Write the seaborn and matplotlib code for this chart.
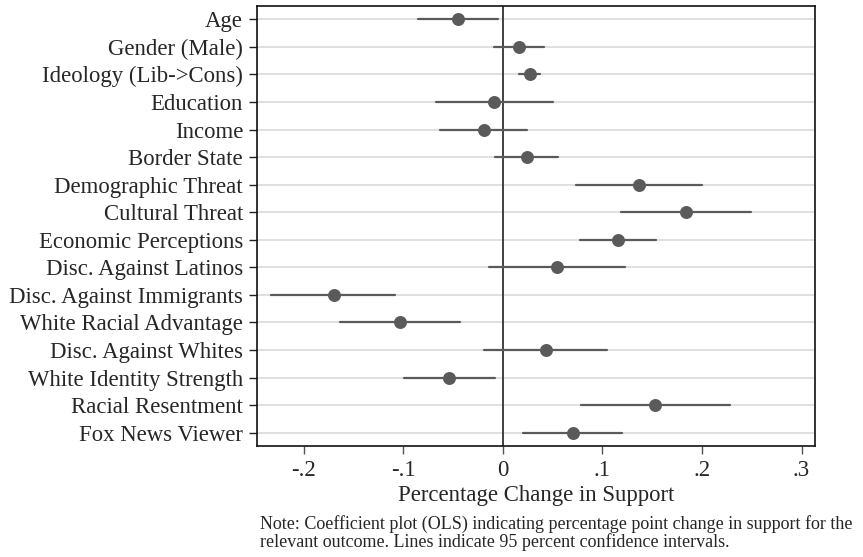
import numpy as np
import pandas as pd
import matplotlib
matplotlib.use("Agg")
import matplotlib.pyplot as plt
import seaborn as sns

variables = ["Age", "Gender (Male)", "Ideology (Lib->Cons)", "Education", "Income",
             "Border State", "Demographic Threat", "Cultural Threat",
             "Economic Perceptions", "Disc. Against Latinos", "Disc. Against Immigrants",
             "White Racial Advantage", "Disc. Against Whites", "White Identity Strength",
             "Racial Resentment", "Fox News Viewer"]
estimate = [-0.045, 0.016, 0.027, -0.009, -0.019, 0.024, 0.137, 0.184,
            0.116, 0.054, -0.170, -0.103, 0.043, -0.054, 0.153, 0.070]
ci_low = [-0.085, -0.009, 0.016, -0.067, -0.063, -0.008, 0.073, 0.119,
          0.077, -0.014, -0.233, -0.164, -0.019, -0.099, 0.078, 0.020]
ci_high = [-0.005, 0.041, 0.037, 0.050, 0.024, 0.055, 0.200, 0.249,
           0.154, 0.123, -0.108, -0.043, 0.105, -0.008, 0.228, 0.120]
xticks = [-0.2, -0.1, 0.0, 0.1, 0.2, 0.3]
xticklabels = ["-.2", "-.1", "0", ".1", ".2", ".3"]

rows = []
for v, lo, e, hi in zip(variables, ci_low, estimate, ci_high):
    for val in (lo, e, hi):
        rows.append({"variable": v, "value": val})
df = pd.DataFrame(rows)

sns.set_style("white")
plt.rcParams["font.family"] = ["Liberation Serif", "DejaVu Serif"]

fig = plt.figure(figsize=(8.63, 5.57), dpi=100)
ax = fig.add_axes([257 / 863, 1 - 446 / 557, (815 - 257) / 863, (446 - 6) / 557])

for i in range(len(variables)):
    ax.axhline(i, color="#e0e0e0", lw=1.4, zorder=0)
ax.axvline(0, color="#333333", lw=1.3, zorder=1)

col = "#5a5a5a"
sns.pointplot(data=df, x="value", y="variable", order=variables,
              estimator=np.median, errorbar=lambda x: (np.min(x), np.max(x)),
              linestyle="none", color=col, markers="o", markersize=7.3,
              err_kws={"linewidth": 1.6, "color": col}, capsize=0, ax=ax, zorder=3)

ax.set_xlim(-0.247, 0.3135)
ax.set_ylim(len(variables) - 0.52, -0.48)
ax.set_xticks(xticks)
ax.set_xticklabels(xticklabels, fontsize=16.4)
ax.set_yticklabels(variables, fontsize=16.4)
ax.set_ylabel("")
ax.set_xlabel("Percentage Change in Support", fontsize=16.4, labelpad=3)
ax.tick_params(axis="x", length=6, width=1, color="#555555", pad=4, bottom=True)
ax.tick_params(axis="y", length=6, width=1, color="#222222", pad=4, left=True)
for s in ax.spines.values():
    s.set_color("#111111")
    s.set_linewidth(1.2)

fig.text(260 / 863, 1 - 533 / 557,
         "Note: Coefficient plot (OLS) indicating percentage point change in support for the\n"
         "relevant outcome. Lines indicate 95 percent confidence intervals.",
         fontsize=13, va="center", ha="left", linespacing=0.98)

fig.savefig("out.png", dpi=100)
